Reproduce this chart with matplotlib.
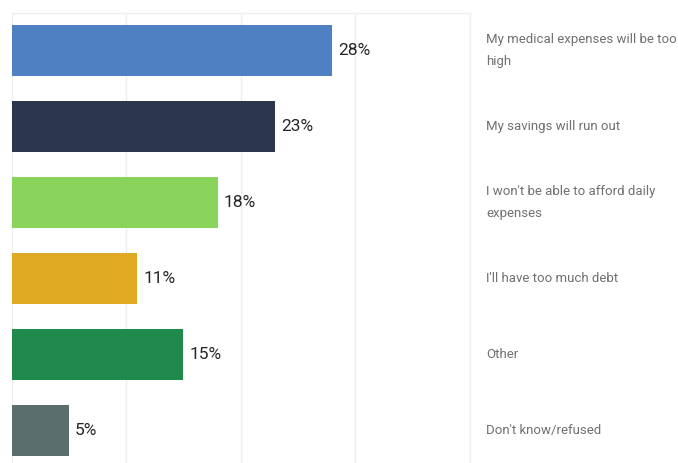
import matplotlib.pyplot as plt

# Retirement worries survey
categories = [
    "My medical expenses will be too\nhigh",
    "My savings will run out",
    "I won't be able to afford daily\nexpenses",
    "I'll have too much debt",
    "Other",
    "Don't know/refused",
]
shares = [28, 23, 18, 11, 15, 5]
colors = ["#4f80c2", "#2c364f", "#89d35b", "#dfaa21", "#1f8a4c", "#5a6e6e"]

plt.rcParams['font.family'] = ['Roboto', 'DejaVu Sans']

fig = plt.figure(figsize=(6.78, 4.63), dpi=100)
ax = fig.add_axes([11.5 / 678, -5.5 / 463, 458 / 678, 456 / 463])

pos = list(range(len(shares)))
ax.barh(pos, shares, height=0.67, color=colors, zorder=2)

ax.set_xlim(0, 40)
ax.set_ylim(len(shares) - 0.5, -0.5)
ax.set_xticks([0, 10, 20, 30, 40])
ax.set_yticks([])
ax.tick_params(axis='x', length=0, labelbottom=False)
ax.grid(axis='x', color='#eeeeee', linewidth=1, zorder=0)

for s in ['left', 'bottom']:
    ax.spines[s].set_visible(False)
for s in ['top', 'right']:
    ax.spines[s].set_color('#eeeeee')
    ax.spines[s].set_linewidth(1)

for y, v in zip(pos, shares):
    ax.text(v + 0.55, y, f"{v}%", va='center', ha='left',
            fontsize=12.5, color='#262626')

for y, label in zip(pos, categories):
    ax.text(1.037, y, label, transform=ax.get_yaxis_transform(),
            va='center', ha='left', fontsize=9.5, color='#707070',
            linespacing=1.85)

fig.savefig('out.png', dpi=100)
